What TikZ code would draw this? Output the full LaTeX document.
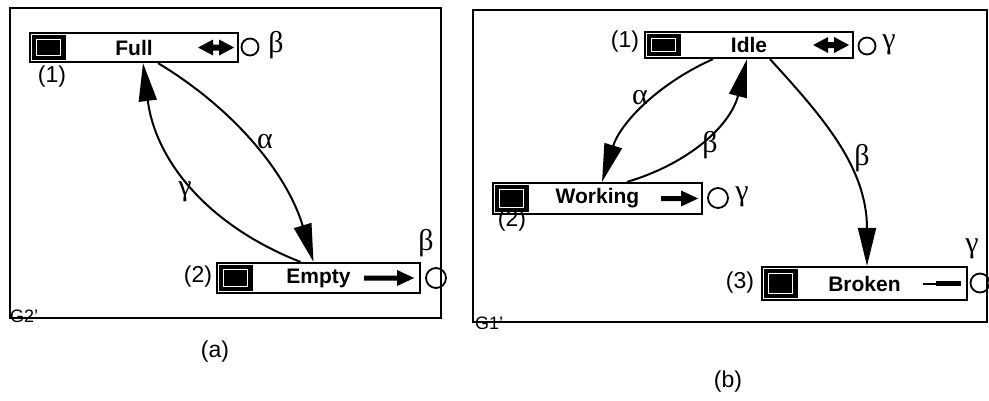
\documentclass[tikz,border=0pt]{standalone}
\usepackage{fontspec}
\setmainfont{Liberation Sans}
\newfontfamily\greekfont{Liberation Serif}
\usetikzlibrary{arrows.meta,calc}

% icon at the left end of a state box
\newcommand\stateicon[1]{%
  \fill ($(#1.north west)+(3,3)$) rectangle ($(#1.south west)+(37,-3)$);
  \draw[white,line width=1pt] ($(#1.north west)+(8,8)$) rectangle ($(#1.south west)+(32,-8)$);
}
% double-headed marker at the right end of a state box
\newcommand\bothways[1]{%
  \fill ($(#1.east)+(-5,0)$) -- ++(-15,-8) -- ++(0,5) -- ++(-6,0) -- ++(0,-5)
    -- ++(-15,8) -- ++(15,8) -- ++(0,-5) -- ++(6,0) -- ++(0,5) -- cycle;
}
% single arrow marker: #2 = offset of the tip, #3 = length of the shaft
\newcommand\oneway[3]{%
  \fill ($(#1.east)+(-#2,0)$) -- ++(-17,-8) -- ++(0,5.5) -- ++(-#3,0)
    -- ++(0,5) -- ++(#3,0) -- ++(0,5.5) -- cycle;
}

\begin{document}
\begin{tikzpicture}[x=1pt,y=-1pt,
  statebox/.style={draw,line width=2.2pt,rectangle,inner sep=0pt,
    font=\fontsize{21}{21}\selectfont\bfseries},
  tagtext/.style={font=\fontsize{23}{23}\selectfont,inner sep=0pt},
  greek/.style={font=\greekfont\fontsize{30}{30}\selectfont,inner sep=0pt},
  port/.style={draw,circle,line width=1.8pt,minimum size=17pt,inner sep=0pt},
  trans/.style={line width=2pt,-{Triangle[length=38pt,width=18pt]}},
  panel/.style={line width=1.5pt},
  graphname/.style={font=\fontsize{18}{18}\selectfont,inner sep=0pt,anchor=south west},
]
\useasboundingbox (0,0) rectangle (989,400);

% ---------- panel (a) ----------
\draw[panel] (10,8) rectangle (441,318);
\node[graphname] (g2name) at (10,323) {G2'};

\node[statebox,minimum width=208pt,minimum height=29pt] (full) at (134,47.5) {Full};
\stateicon{full}
\bothways{full}
\node[port] (fullport) at (250,47) {};
\node[greek] (fullbeta) at (276,45) {β};
\node[tagtext] (fulltag) at (52,77) {(1)};

\node[statebox,minimum width=203pt,minimum height=30pt] (empty) at (318.5,278) {Empty};
\stateicon{empty}
\oneway{empty}{7}{33}
\node[port,minimum size=20pt] (emptyport) at (436,278) {};
\node[greek] (emptybeta) at (426,243) {β};
\node[tagtext] (emptytag) at (198,277) {(2)};

\draw[trans] ($(full.south)+(24,0)$) .. controls +(78,47) and +(-26,-87) .. ($(empty.north)+(-5,0)$);
\draw[trans] ($(empty.north)+(-18,0)$) .. controls +(-92,-36) and +(12.5,98) .. ($(full.south)+(9,0)$);
\node[greek] (alphaA) at (265,142) {α};
\node[greek] (gammaA) at (185,192) {γ};

\node[tagtext] (capa) at (215,352) {(a)};

% ---------- panel (b) ----------
\draw[panel] (473,10) rectangle (987,322);
\node[graphname] (g1name) at (475,330) {G1'};

\node[statebox,minimum width=208pt,minimum height=26pt] (idle) at (749,45) {Idle};
\stateicon{idle}
\bothways{idle}
\node[port] (idleport) at (867,46) {};
\node[greek] (idlegamma) at (889,45) {γ};
\node[tagtext] (idletag) at (625,42) {(1)};

\node[statebox,minimum width=209pt,minimum height=31pt] (working) at (597.5,198.5) {Working};
\stateicon{working}
\oneway{working}{5}{20}
\node[port,minimum size=20pt] (workport) at (718,198) {};
\node[greek] (workgamma) at (742,197) {γ};
\node[tagtext] (worktag) at (512,221) {(2)};

\node[statebox,minimum width=205pt,minimum height=33pt] (broken) at (864.5,283.5) {Broken};
\stateicon{broken}
\draw[line width=2pt] ($(broken.east)+(-45,0)$) -- ++(15,0);
\draw[line width=4.5pt] ($(broken.east)+(-32,0)$) -- ++(25,0);
\node[port,minimum size=19pt] (brokenport) at (980,283) {};
\node[greek] (brokengamma) at (972,249) {γ};
\node[tagtext] (brokentag) at (740,283) {(3)};

\draw[trans] ($(idle.south)+(-36,0)$) .. controls +(-56,25) and +(18,-58) .. ($(working.north)+(4.5,0)$);
\draw[trans] ($(working.north)+(29.5,0)$) .. controls +(64,-19) and +(-16,65) .. ($(idle.south)+(-2,0)$);
\draw[trans] ($(idle.south)+(21,0)$) .. controls +(50,55) and +(0,-100) .. ($(broken.north)+(2.5,0)$);
\node[greek] (alphaB) at (640,98) {α};
\node[greek] (betaB) at (710,145) {β};
\node[greek] (betaC) at (862,158) {β};

\node[tagtext] (capb) at (728,382) {(b)};
\end{tikzpicture}
\end{document}
